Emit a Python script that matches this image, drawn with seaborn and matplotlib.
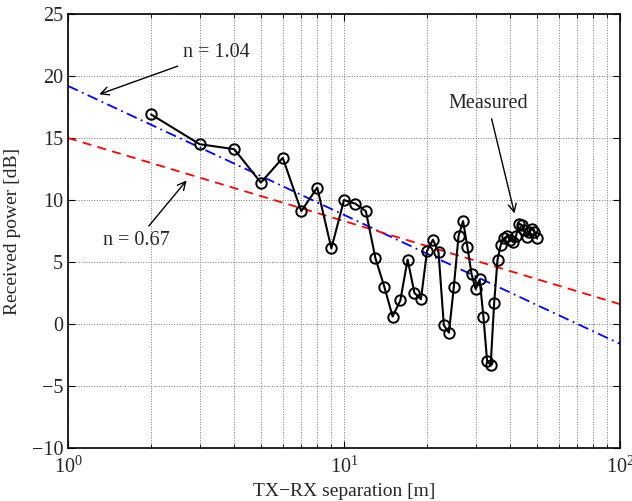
import matplotlib
matplotlib.use("Agg")
import matplotlib.pyplot as plt
import numpy as np
import pandas as pd
import seaborn as sns

# measured received power vs TX-RX distance
distance_m = [2, 3, 4, 5, 6, 7, 8, 9, 10, 11, 12, 13, 14, 15, 16, 17, 18, 19,
              20, 21, 22, 23, 24, 25, 26, 27, 28, 29, 30, 31, 32, 33, 34, 35,
              36, 37, 38, 39, 40, 41, 42, 43, 44, 45, 46, 47, 48, 49, 50]
power_db = [16.9, 14.5, 14.1, 11.4, 13.4, 9.1, 11.0, 6.1, 10.0, 9.7, 9.1,
            5.3, 3.0, 0.6, 1.9, 5.2, 2.5, 2.0, 5.9, 6.8, 5.8, -0.1, -0.7,
            3.0, 7.1, 8.3, 6.2, 4.0, 2.8, 3.6, 0.6, -3.0, -3.3, 1.7, 5.2,
            6.4, 6.9, 7.1, 6.8, 6.6, 7.1, 8.1, 8.0, 7.6, 7.0, 7.4, 7.7,
            7.4, 6.9]

# path-loss fits, end points at 1 m and 100 m
fit_distance = [1, 100]
fit_n104 = [19.2, -1.6]
fit_n067 = [15.0, 1.6]

sns.set_style("ticks")
plt.rcParams["font.family"] = ["Liberation Serif", "DejaVu Serif"]
plt.rcParams["mathtext.fontset"] = "custom"
plt.rcParams["mathtext.rm"] = "Liberation Serif"
plt.rcParams["mathtext.it"] = "Liberation Serif:italic"

meas = pd.DataFrame({"d": distance_m, "p": power_db})
fits = pd.DataFrame({"d": fit_distance, "n104": fit_n104, "n067": fit_n067})

fig = plt.figure(figsize=(6.32, 5.01), dpi=100)
ax = fig.add_axes([68 / 632, 53 / 501, 552 / 632, 434 / 501])

sns.lineplot(data=fits, x="d", y="n104", ax=ax, color="blue", lw=1.3,
             linestyle=(0, (6, 2.5, 1, 2.5)))
sns.lineplot(data=fits, x="d", y="n067", ax=ax, color="red", lw=1.3,
             linestyle=(0, (5, 3.5)))
sns.lineplot(data=meas, x="d", y="p", ax=ax, color="black", lw=1.5,
             marker="o", markersize=7.5, markerfacecolor="none",
             markeredgecolor="black", markeredgewidth=1.4)

ax.set_xscale("log")
ax.set_xlim(1, 100)
ax.set_ylim(-10, 25)
ax.set_yticks(np.arange(-10, 26, 5))

ax.grid(True, which="major", color="0.45", linestyle=":", lw=0.7)
ax.grid(True, which="minor", axis="x", color="0.45", linestyle=":", lw=0.7)
ax.tick_params(which="both", direction="in", top=True, right=True,
               labelsize=14.5, color="black")
ax.tick_params(which="major", length=5, width=0.8)
ax.tick_params(which="minor", length=3, width=0.6)
ax.tick_params(axis="x", which="major", pad=6)
for sp in ax.spines.values():
    sp.set_linewidth(1.2)
    sp.set_color("black")

ax.set_xlabel("TX\u2212RX separation [m]", fontsize=14, labelpad=4)
ax.set_ylabel("Received power [dB]", fontsize=14, labelpad=8)

arrow = dict(arrowstyle="->", color="black", lw=1.0)
ax.annotate("n = 1.04", xy=(1.27, 18.45), xytext=(2.6, 21.9),
            fontsize=14.5, va="center", ha="left", arrowprops=arrow)
ax.annotate("n = 0.67", xy=(2.73, 11.75), xytext=(1.34, 6.7),
            fontsize=14.5, va="center", ha="left", arrowprops=arrow)
ax.annotate("Measured", xy=(41.7, 8.7), xytext=(33.2, 17.8),
            fontsize=14.5, va="center", ha="center", arrowprops=arrow)

fig.savefig("out.png", dpi=100)
